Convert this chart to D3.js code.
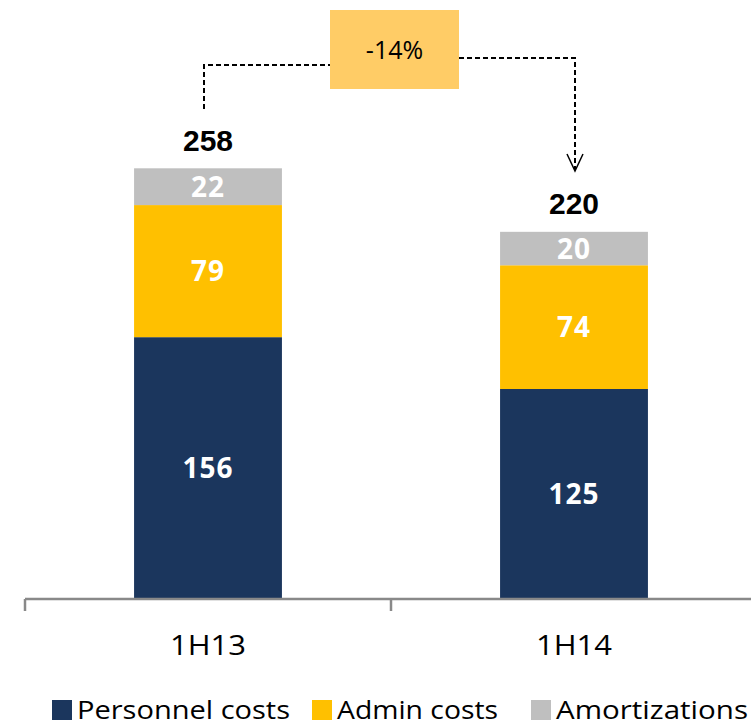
<!DOCTYPE html>
<html>
<head>
<meta charset="utf-8">
<script src="https://cdn.jsdelivr.net/npm/d3@7"></script>
<style>
  html, body { margin: 0; padding: 0; background: #fff; }
  svg { display: block; }
</style>
</head>
<body>
<svg id="chart" width="751" height="726"></svg>
<script>
const categories = ["1H13", "1H14"];
const seriesNames = ["Personnel costs", "Admin costs", "Amortizations"];
const personnel = [156, 125];
const admin = [79, 74];
const amortizations = [22, 20];
const totals = [258, 220];
const changeLabel = "-14%";
const colors = ["#1B365D", "#FFC000", "#BFBFBF"];

const svg = d3.select("#chart");
const baseY = 598;

const x = d3.scaleBand().domain(categories).range([25, 757])
  .paddingInner(0.596).paddingOuter(0.298);
const y = d3.scaleLinear().domain([0, 300]).range([baseY, baseY - 300 * 1.672]);

const rows = categories.map((c, i) => ({
  cat: c, "Personnel costs": personnel[i], "Admin costs": admin[i], "Amortizations": amortizations[i]
}));
const stack = d3.stack().keys(seriesNames)(rows);

const g = svg.append("g");
stack.forEach((layer, li) => {
  g.selectAll(null).data(layer).enter().append("rect")
    .attr("x", d => x(d.data.cat))
    .attr("width", x.bandwidth())
    .attr("y", d => y(d[1]))
    .attr("height", d => y(d[0]) - y(d[1]))
    .attr("fill", colors[li]);
  g.selectAll(null).data(layer).enter().append("text")
    .attr("x", d => x(d.data.cat) + x.bandwidth() / 2)
    .attr("y", d => (y(d[0]) + y(d[1])) / 2)
    .attr("dy", "0.36em")
    .attr("text-anchor", "middle")
    .attr("fill", "#fff")
    .attr("font-family", "'Open Sans', sans-serif")
    .attr("font-weight", "bold")
    .attr("font-size", 28)
    .attr("letter-spacing", 1)
    .text(d => d[1] - d[0]);
});

// totals
g.selectAll(null).data(categories).enter().append("text")
  .attr("x", c => x(c) + x.bandwidth() / 2)
  .attr("y", (c, i) => y(totals[i]) - 16)
  .attr("text-anchor", "middle")
  .attr("font-family", "'Liberation Sans', Arial, sans-serif")
  .attr("font-weight", "bold")
  .attr("font-size", 30)
  .attr("fill", "#000")
  .text((c, i) => totals[i]);

// axis
const step = x.step();
const gap = (step - x.bandwidth()) / 2;
const axisY = 599;
svg.append("line").attr("x1", x(categories[0]) - gap).attr("x2", 751)
  .attr("y1", axisY).attr("y2", axisY)
  .attr("stroke", "#898989").attr("stroke-width", 2.5);
categories.forEach(c => {
  svg.append("line").attr("x1", x(c) - gap).attr("x2", x(c) - gap)
    .attr("y1", axisY).attr("y2", 611)
    .attr("stroke", "#898989").attr("stroke-width", 2.5);
});
svg.selectAll(null).data(categories).enter().append("text")
  .attr("x", c => x(c) + x.bandwidth() / 2)
  .attr("y", 655)
  .attr("text-anchor", "middle")
  .attr("font-family", "'Open Sans', sans-serif")
  .attr("font-size", 27)
  .attr("textLength", 76).attr("lengthAdjust", "spacingAndGlyphs")
  .attr("fill", "#000")
  .text(c => c);

// change annotation
const leftX = x(categories[0]) + x.bandwidth() / 2 - 4;
const rightX = x(categories[1]) + x.bandwidth() / 2 + 1;
const boxX = 330, boxW = 129, boxY = 10, boxH = 79;
const dash = { stroke: "#000", "stroke-width": 2, "stroke-dasharray": "5,3", fill: "none" };
const applyDash = sel => { Object.entries(dash).forEach(([k, v]) => sel.attr(k, v)); return sel; };
applyDash(svg.append("path").attr("d", `M${leftX},109 V65 H${boxX}`));
applyDash(svg.append("path").attr("d", `M${boxX + boxW},58 H${rightX} V169`));
svg.append("path").attr("d", `M${rightX - 8},154 L${rightX},171 L${rightX + 8},154`)
  .attr("fill", "none").attr("stroke", "#000").attr("stroke-width", 1.5);
svg.append("rect").attr("x", boxX).attr("y", boxY).attr("width", boxW).attr("height", boxH)
  .attr("fill", "#FFCC66");
svg.append("text").attr("x", boxX + boxW / 2).attr("y", boxY + boxH / 2).attr("dy", "0.36em")
  .attr("text-anchor", "middle")
  .attr("font-family", "'Open Sans', sans-serif")
  .attr("font-size", 25).attr("fill", "#000")
  .text(changeLabel);

// legend
const legendPos = [{ sx: 52, tx: 77, w: 213 }, { sx: 312, tx: 337, w: 161 }, { sx: 531, tx: 556, w: 192 }];
seriesNames.forEach((s, i) => {
  const p = legendPos[i];
  svg.append("rect").attr("x", p.sx).attr("y", 700).attr("width", 20).attr("height", 20).attr("fill", colors[i]);
  svg.append("text").attr("x", p.tx).attr("y", 719)
    .attr("font-family", "'Open Sans', sans-serif")
    .attr("font-size", 25)
    .attr("textLength", p.w).attr("lengthAdjust", "spacingAndGlyphs")
    .attr("fill", "#000")
    .text(s);
});
</script>
</body>
</html>
